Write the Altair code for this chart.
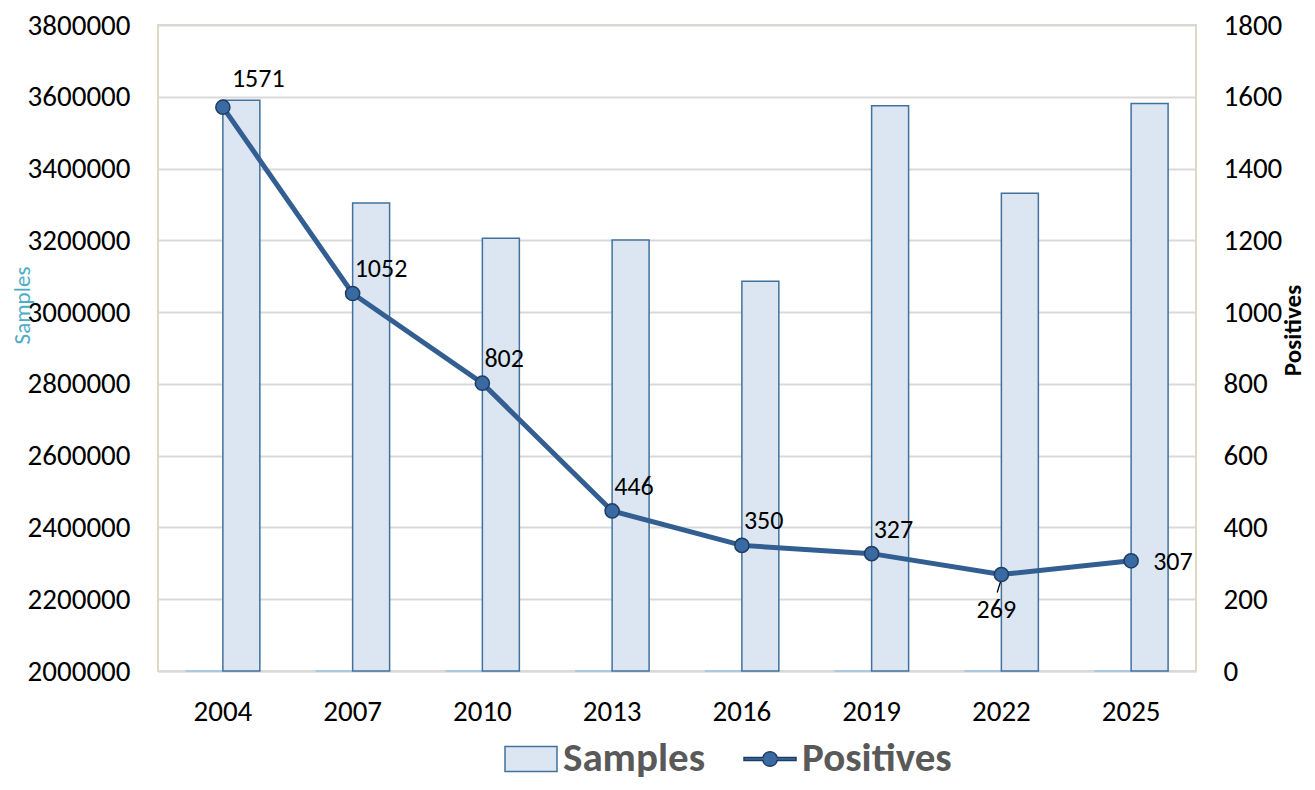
import altair as alt
import pandas as pd

# ---- data ----
years = ["2004", "2007", "2010", "2013", "2016", "2019", "2022", "2025"]
samples = [3590000, 3304000, 3206000, 3201000, 3086000, 3575000, 3331000, 3581000]
positives = [1571, 1052, 802, 446, 350, 327, 269, 307]
# companion (empty) bar series that sits on the axis floor
companion = [2000000, 2000000, 2000000, 2000000, 2000000, 2000000, 2000000, 2000000]
series_names = ["Samples", "Positives"]
left_ticks = [2000000, 2200000, 2400000, 2600000, 2800000, 3000000, 3200000, 3400000, 3600000, 3800000]
right_ticks = [0, 200, 400, 600, 800, 1000, 1200, 1400, 1600, 1800]

FONT = "Carlito, Lato, sans-serif"
BAR_FILL = "#dce6f2"
BAR_STROKE = "#41719c"
COMP = "#9dc3e6"
LINE = "#335e92"
PT_FILL = "#3a6aa2"
PT_STROKE = "#1f3c63"
TICK_FS = 29

bars_df = pd.DataFrame({
    "year": years + years,
    "group": ["blank"] * len(years) + ["Samples"] * len(years),
    "value": companion + samples,
})
line_df = pd.DataFrame({"year": years, "positives": positives})
legend_df = pd.DataFrame({"series": series_names})

x_axis = alt.Axis(title=None, labelAngle=0, ticks=False, domainColor="#d9d9d9", domainWidth=2,
                  labelFont=FONT, labelFontSize=TICK_FS, labelPadding=26, labelColor="black")

left_axis = alt.Axis(title="Samples", values=left_ticks, format="d", grid=True, gridColor="#d9d9d9",
                     gridWidth=2, ticks=False, domain=False, labelFont=FONT, labelFontSize=TICK_FS,
                     labelPadding=28, labelColor="black", titleFont=FONT, titleFontSize=23,
                     titleFontWeight="normal", titleColor="#4bacc6", titleAngle=270, titleX=-136,
                     titleY=280, titleAlign="center", titleBaseline="middle")

right_axis = alt.Axis(orient="right", title="Positives", values=right_ticks, format="d", grid=False,
                      ticks=False, domain=False, labelFont=FONT, labelFontSize=TICK_FS, labelPadding=27,
                      labelColor="black", titleFont=FONT, titleFontSize=25, titleFontWeight="bold",
                      titleColor="black", titleAngle=270, titleX=96, titleY=305, titleAlign="center",
                      titleBaseline="middle")

x_enc = alt.X("year:N", sort=years, scale=alt.Scale(paddingInner=0.43, paddingOuter=0.215), axis=x_axis)

is_samples = alt.datum.group == "Samples"
bars = alt.Chart(bars_df).mark_bar(strokeWidth=1.5).encode(
    x=x_enc,
    xOffset=alt.XOffset("group:N", sort=["blank", "Samples"],
                        scale=alt.Scale(domain=["blank", "Samples"], paddingInner=0, paddingOuter=0)),
    y=alt.Y("value:Q", scale=alt.Scale(domain=[2000000, 3800000], zero=False, nice=False), axis=left_axis),
    y2=alt.Y2(datum=2000000),
    fill=alt.condition(is_samples, alt.value(BAR_FILL), alt.value(COMP)),
    stroke=alt.condition(is_samples, alt.value(BAR_STROKE), alt.value(COMP)),
)

base = alt.Chart(line_df).encode(
    x=alt.X("year:N", sort=years),
    y=alt.Y("positives:Q", scale=alt.Scale(domain=[0, 1800], nice=False), axis=right_axis),
)
line = base.mark_line(color=LINE, strokeWidth=5)
leader = base.transform_filter(alt.datum.year == "2022").mark_point(
    shape="stroke", size=220, angle=107, stroke="black", strokeWidth=1.3, opacity=1,
    xOffset=-2, yOffset=11)
pts = base.mark_point(filled=True, size=200, fill=PT_FILL, stroke=PT_STROKE, strokeWidth=1.5, opacity=1)

txt = dict(font=FONT, fontSize=26, color="black", baseline="middle")
lab_first = base.transform_filter(alt.datum.year == "2004").mark_text(align="left", dx=9, dy=-28, **txt).encode(text="positives:Q")
lab_main = base.transform_filter(
    "datum.year != '2004' && datum.year != '2022' && datum.year != '2025'"
).mark_text(align="left", dx=2, dy=-24, **txt).encode(text="positives:Q")
lab_below = base.transform_filter(alt.datum.year == "2022").mark_text(align="center", dx=-5, dy=36, **txt).encode(text="positives:Q")
lab_right = base.transform_filter(alt.datum.year == "2025").mark_text(align="left", dx=22, dy=1, **txt).encode(text="positives:Q")

right_layer = alt.layer(line, leader, pts, lab_first, lab_main, lab_below, lab_right)

rect_path = "M-1,-0.48H1V0.48H-1Z"
line_path = ("M-1,-0.06H-0.2735A0.28,0.28 0 0,1 0.2735,-0.06H1V0.06H0.2735"
             "A0.28,0.28 0 0,1 -0.2735,0.06H-1Z")
leg = alt.Legend(title=None, orient="none", legendX=346, legendY=707, direction="horizontal",
                 symbolSize=2704, symbolStrokeWidth=1.5, labelFont=FONT, labelFontSize=41,
                 labelFontWeight="bold", labelColor="#595959", labelOffset=5, columnPadding=35,
                 padding=0, labelLimit=400)
legend_layer = alt.Chart(legend_df).transform_filter("false").mark_point(filled=True, opacity=1).encode(
    fill=alt.Fill("series:N", scale=alt.Scale(domain=series_names, range=[BAR_FILL, PT_FILL]), legend=leg),
    shape=alt.Shape("series:N", scale=alt.Scale(domain=series_names, range=[rect_path, line_path]), legend=leg),
    stroke=alt.Stroke("series:N", scale=alt.Scale(domain=series_names, range=[BAR_STROKE, PT_STROKE]), legend=leg),
)

chart = alt.layer(bars, right_layer, legend_layer).resolve_scale(y="independent").properties(
    width=1038, height=646,
    autosize=alt.AutoSizeParams(type="none"),
    padding={"left": 150, "top": 17, "right": 111, "bottom": 111},
    background="white",
).configure_view(stroke="#ddd9c3", strokeWidth=2)

chart.save("out.html", embed_options={"renderer": "svg", "actions": False})
